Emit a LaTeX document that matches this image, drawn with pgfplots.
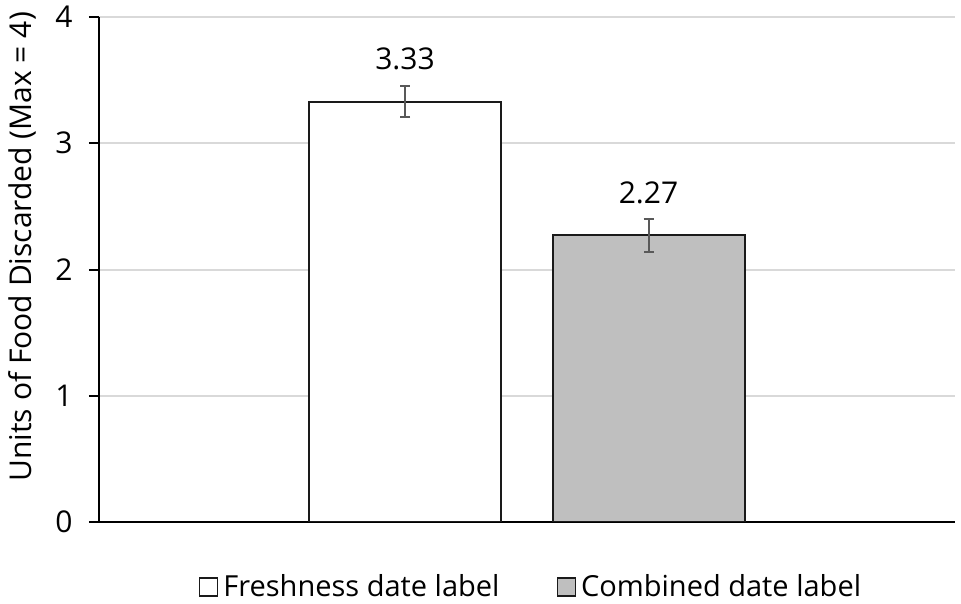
\documentclass[border=0pt]{standalone}
\usepackage{pgfplots}
\pgfplotsset{compat=1.18}
\usepackage{fontspec}
\setmainfont{Open Sans}
\definecolor{gridc}{HTML}{D9D9D9}
\definecolor{bartwo}{HTML}{BFBFBF}
\definecolor{errc}{HTML}{595959}
\definecolor{edge}{HTML}{1A1A1A}
\newcommand{\fs}{\fontsize{15bp}{17bp}\selectfont}
\newcommand{\fl}{\fontsize{14.5bp}{17bp}\selectfont}
\begin{document}
\begin{tikzpicture}
\useasboundingbox (-49.5bp,-41bp) rectangle (431bp,261bp);
\begin{axis}[
  at={(0,0)}, anchor=south west,
  scale only axis, width=428bp, height=252.5bp,
  xmin=99, xmax=955, ymin=0, ymax=4,
  axis lines=left, axis line style={-, black, line width=1bp},
  xtick=\empty,
  ytick={0,1,2,3,4},
  ymajorgrids, grid style={gridc, line width=1bp},
  tick align=outside, major tick length=5bp, tick style={black, line width=1bp},
  /pgf/number format/assume math mode=true,
  tick label style={font=\fs, black},
  yticklabel style={inner sep=0pt, xshift=-8bp},
  ylabel={Units of Food Discarded (Max = 4)},
  ylabel style={font=\fs, at={(axis description cs:-0.09,0.545)}, anchor=center},
  legend columns=2,
  legend style={at={(axis description cs:0.5035,-0.1287)}, anchor=center,
    draw=none, fill=none, font=\fl, inner sep=0pt,
    nodes={inner sep=0pt},
    column sep=2.5bp,
    /tikz/every even column/.append style={column sep=28.5bp}},
  legend image code/.code={\draw[#1, line width=0.75bp] (0bp,-4.5bp) rectangle (9bp,4.5bp);},
  nodes near coords={\pgfmathprintnumber[fixed,precision=2,fixed zerofill]{\pgfplotspointmeta}},
  nodes near coords style={font=\fs, anchor=base, inner sep=0pt, yshift=16bp, black},
]
\addplot[ybar, bar width=192, bar shift=0pt, fill=white, draw=edge, line width=1bp,
  error bars/.cd, y dir=both, y explicit,
  error bar style={errc, line width=1bp},
  error mark options={errc, rotate=90, mark size=2.5bp, line width=1bp}]
  coordinates {(405,3.33) +- (0,0.125)};
\addlegendentry{Freshness date label}
\addplot[ybar, bar width=192, bar shift=0pt, fill=bartwo, draw=edge, line width=1bp,
  error bars/.cd, y dir=both, y explicit,
  error bar style={errc, line width=1bp},
  error mark options={errc, rotate=90, mark size=2.5bp, line width=1bp}]
  coordinates {(648.5,2.27) +- (0,0.13)};
\addlegendentry{Combined date label}
\end{axis}
\end{tikzpicture}
\end{document}
